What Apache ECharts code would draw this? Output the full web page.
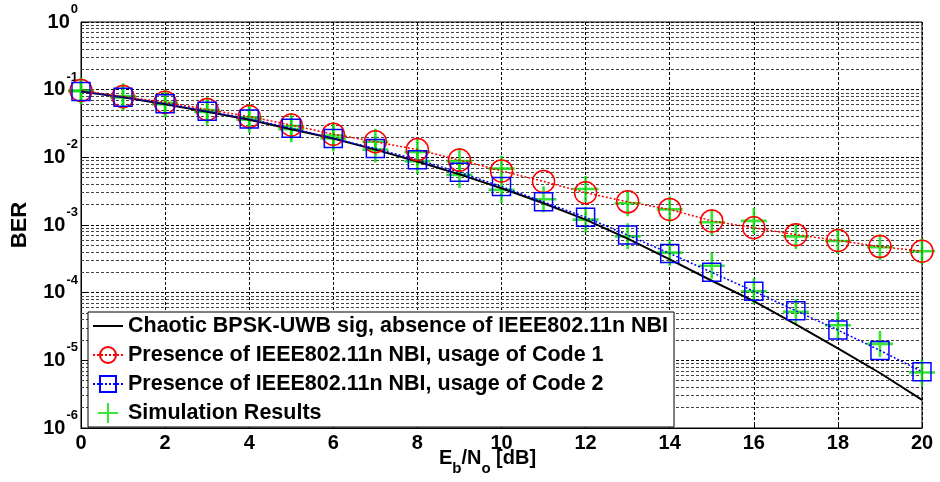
<!DOCTYPE html>
<html>
<head>
<meta charset="utf-8">
<script src="https://cdn.jsdelivr.net/npm/echarts@6/dist/echarts.min.js"></script>
<style>
  html, body { margin: 0; padding: 0; background: #fff; }
  #main { width: 940px; height: 482px; }
</style>
</head>
<body>
<div id="main"></div>
<script>
  // Eb/No [dB]
  const snrDb = [0, 1, 2, 3, 4, 5, 6, 7, 8, 9, 10, 11, 12, 13, 14, 15, 16, 17, 18, 19, 20]
  // 理论曲线 (no NBI)
  const berTheory = [0.094, 0.077, 0.061, 0.047, 0.036, 0.026, 0.019, 0.013, 0.0087, 0.0056, 0.0035,
    0.0021, 0.0012, 0.00063, 0.00031, 0.00015, 7.5e-5, 3.4e-5, 1.5e-5, 6.5e-6, 2.6e-6]
  const berCode1 = [0.097, 0.079, 0.065, 0.051, 0.040, 0.030, 0.022, 0.017, 0.013, 0.0091, 0.0063,
    0.0044, 0.0030, 0.0022, 0.0017, 0.00115, 0.00091, 0.00072, 0.00059, 0.00048, 0.00041]
  const berCode2 = [0.094, 0.077, 0.062, 0.048, 0.037, 0.027, 0.019, 0.0135, 0.0092, 0.0060, 0.0037,
    0.0022, 0.0013, 0.00071, 0.00038, 0.00020, 0.000105, 5.4e-5, 2.8e-5, 1.4e-5, 6.8e-6]
  // simulation points (green +), null = no point
  const simCode1 = [0.097, 0.080, 0.064, 0.050, 0.039, 0.029, 0.021, 0.017, 0.012, 0.0088, 0.0068,
    null, 0.0034, 0.0021, 0.0017, 0.00110, 0.00115, 0.00068, 0.00058, 0.00047, 0.00041]
  const simCode2 = [0.095, 0.077, 0.061, 0.047, 0.036, 0.026, 0.019, 0.013, 0.0088, 0.0055, 0.0033,
    0.0024, 0.0012, 0.00068, 0.00039, 0.00025, 0.000105, 5.2e-5, 3.3e-5, 1.75e-5, 6.6e-6]
  const xTicks = [0, 2, 4, 6, 8, 10, 12, 14, 16, 18, 20]
  const decades = [-6, -5, -4, -3, -2, -1]
  const minorSteps = [2, 3, 4, 5, 6, 7, 8, 9]

  const FONT = '"Liberation Sans", Arial, sans-serif'
  const names = [
    'Chaotic BPSK-UWB sig, absence of IEEE802.11n NBI',
    'Presence of IEEE802.11n NBI, usage of Code 1',
    'Presence of IEEE802.11n NBI, usage of Code 2',
    'Simulation Results'
  ]
  const plus = 'path://M4.5,0H5.5V4.5H10V5.5H5.5V10H4.5V5.5H0V4.5H4.5Z'

  const pairs = (ys) => snrDb.map((x, i) => [x, ys[i]]).filter(p => p[1] != null)
  const minorLines = []
  decades.forEach(d => {
    minorSteps.forEach(k => { minorLines.push({ yAxis: k * Math.pow(10, d) }) })
  })

  let myChart = echarts.init(document.getElementById('main'))
  let option = {
    animation: false,
    backgroundColor: '#fff',
    textStyle: { fontFamily: FONT },
    grid: {
      left: 81, right: 18, top: 22, bottom: 54,
      outerBoundsMode: 'none',
      containLabel: false,
      show: true, borderColor: '#000', borderWidth: 1
    },
    legend: {
      data: [
        { name: names[0], itemStyle: { opacity: 0 } },
        names[1], names[2], names[3]
      ],
      orient: 'vertical',
      left: 88,
      top: 312,
      itemWidth: 30,
      itemHeight: 20,
      itemGap: 7,
      padding: [3, 6, 3, 4],
      backgroundColor: '#fff',
      borderColor: '#000',
      borderWidth: 1,
      textStyle: { fontFamily: FONT, fontSize: 21.5, fontWeight: 'bold', color: '#000' }
    },
    xAxis: {
      type: 'value',
      min: 0,
      max: 20,
      interval: 2,
      name: '{n|E}{sub|b}{n|/N}{sub|o}{n| [dB]}',
      nameLocation: 'middle',
      nameMoveOverlap: false,
      nameGap: 20,
      nameTextStyle: {
        padding: [0, 28, 0, 0],
        verticalAlign: 'top',
        rich: {
          n: { fontFamily: FONT, fontSize: 20, fontWeight: 'bold', color: '#000', verticalAlign: 'top', lineHeight: 20 },
          sub: { fontFamily: FONT, fontSize: 15, fontWeight: 'bold', color: '#000', verticalAlign: 'top', lineHeight: 15, padding: [13, 0, 0, 0] }
        }
      },
      axisLine: { show: true, lineStyle: { color: '#000', width: 1 } },
      axisTick: { show: true, inside: true, length: 5, lineStyle: { color: '#000' } },
      axisLabel: {
        margin: 5,
        fontFamily: FONT, fontSize: 20, fontWeight: 'bold', color: '#000',
        customValues: xTicks
      },
      splitLine: { show: true, lineStyle: { color: '#000', width: 1, type: [3, 2] } }
    },
    yAxis: {
      type: 'log',
      logBase: 10,
      min: 1e-6,
      max: 1,
      name: 'BER',
      nameLocation: 'middle',
      nameMoveOverlap: false,
      nameRotate: 90,
      nameGap: 50,
      nameTextStyle: { fontFamily: FONT, fontSize: 22, fontWeight: 'bold', color: '#000' },
      axisLine: { show: true, lineStyle: { color: '#000', width: 1 } },
      axisTick: { show: true, inside: true, length: 5, lineStyle: { color: '#000' } },
      axisLabel: {
        margin: 3,
        formatter: (v) => '{b|10}{s|' + Math.round(Math.log10(v)) + '}',
        rich: {
          b: { fontFamily: FONT, fontSize: 20, fontWeight: 'bold', color: '#000', lineHeight: 38, verticalAlign: 'middle' },
          s: { fontFamily: FONT, fontSize: 13, fontWeight: 'bold', color: '#000', lineHeight: 13, verticalAlign: 'top', padding: [0, 0, 0, 1] }
        }
      },
      splitLine: { show: true, lineStyle: { color: '#000', width: 1, type: [3, 2] } }
    },
    series: [
      {
        // 次网格线, 挂在一条不可见的线上
        name: '_grid',
        type: 'line',
        z: 1,
        symbol: 'none',
        silent: true,
        lineStyle: { opacity: 0 },
        data: pairs(berTheory),
        markLine: {
          z: 1,
          silent: true,
          precision: 12,
          symbol: 'none',
          label: { show: false },
          lineStyle: { color: '#444', width: 1, type: [3, 2] },
          data: minorLines
        }
      },
      {
        name: names[0],
        type: 'line',
        symbol: 'none',
        color: '#000',
        lineStyle: { color: '#000', width: 2 },
        data: pairs(berTheory)
      },
      {
        name: names[1],
        type: 'line',
        symbol: 'circle',
        symbolSize: 22,
        showAllSymbol: true,
        color: '#ff0000',
        itemStyle: { color: 'none', borderColor: '#ff0000', borderWidth: 1.5 },
        lineStyle: { color: '#ff0000', width: 1.5, type: [2, 2] },
        data: pairs(berCode1)
      },
      {
        name: names[2],
        type: 'line',
        symbol: 'rect',
        symbolSize: 18,
        showAllSymbol: true,
        color: '#0000ff',
        itemStyle: { color: 'none', borderColor: '#0000ff', borderWidth: 1.5 },
        lineStyle: { color: '#0000ff', width: 1.5, type: [2, 2] },
        data: pairs(berCode2)
      },
      {
        name: names[3],
        type: 'scatter',
        symbol: plus,
        symbolSize: 26,
        color: '#00e000',
        itemStyle: { color: '#00e000' },
        data: pairs(simCode1).concat(pairs(simCode2))
      }
    ]
  }
  myChart.setOption(option)
</script>
</body>
</html>
